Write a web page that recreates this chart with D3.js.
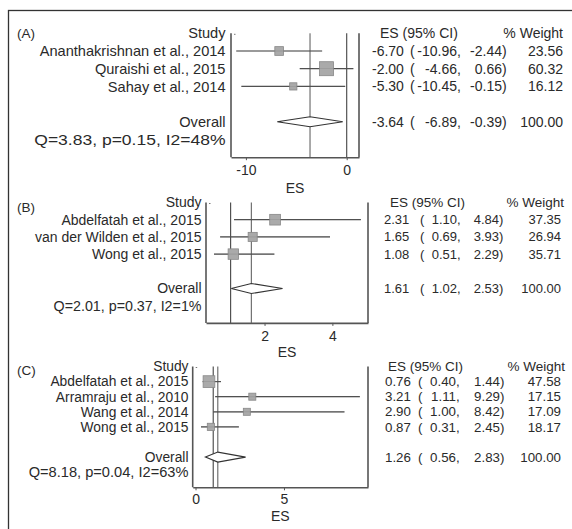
<!DOCTYPE html>
<html>
<head>
<meta charset="utf-8">
<script src="https://cdn.jsdelivr.net/npm/d3@7"></script>
<style>
  html, body { margin: 0; padding: 0; background: #fff; }
  svg { display: block; }
  text { font-family: "Liberation Sans", Arial, sans-serif; fill: #2a2a2a; }
</style>
</head>
<body>
<svg id="chart" width="572" height="529"></svg>
<script>
// ---------------- DATA ----------------
const panelLabels = ["(A)", "(B)", "(C)"];

const studiesA = ["Ananthakrishnan et al., 2014", "Quraishi et al., 2015", "Sahay et al., 2014"];
const esA      = [-6.70, -2.00, -5.30];
const loA      = [-10.96, -4.66, -10.45];
const hiA      = [-2.44, 0.66, -0.15];
const weightA  = [23.56, 60.32, 16.12];
const overallA = [-3.64, -6.89, -0.39];
const hetA     = "Q=3.83, p=0.15, I2=48%";
const ticksA   = [-10, 0];
const nullA    = 0;

const studiesB = ["Abdelfatah et al., 2015", "van der Wilden et al., 2015", "Wong et al., 2015"];
const esB      = [2.31, 1.65, 1.08];
const loB      = [1.10, 0.69, 0.51];
const hiB      = [4.84, 3.93, 2.29];
const weightB  = [37.35, 26.94, 35.71];
const overallB = [1.61, 1.02, 2.53];
const hetB     = "Q=2.01, p=0.37, I2=1%";
const ticksB   = [2, 4];
const nullB    = 1;

const studiesC = ["Abdelfatah et al., 2015", "Arramraju et al., 2010", "Wang et al., 2014", "Wong et al., 2015"];
const esC      = [0.76, 3.21, 2.90, 0.87];
const loC      = [0.40, 1.11, 1.00, 0.31];
const hiC      = [1.44, 9.29, 8.42, 2.45];
const weightC  = [47.58, 17.15, 17.09, 18.17];
const overallC = [1.26, 0.56, 2.83];
const hetC     = "Q=8.18, p=0.04, I2=63%";
const ticksC   = [0, 5];
const nullC    = 1;

const headerStudy  = "Study";
const headerES     = "ES (95% CI)";
const headerWeight = "% Weight";
const overallLabel = "Overall";
const overallWeight = 100.00;
const axisTitle    = "ES";

// ---------------- LAYOUT ----------------
const loc = d3.formatLocale({decimal: ".", thousands: ",", grouping: [3], currency: ["", ""], minus: "-"});
const f2 = loc.format(".2f");
const f0 = loc.format("d");

const svg = d3.select("#chart");

// outer frame (only top & left visible)
svg.append("rect").attr("x", 8.5).attr("y", 10.5).attr("width", 600).attr("height", 600)
  .attr("fill", "none").attr("stroke", "#333").attr("stroke-width", 1.3);

const panels = [
  { label: panelLabels[0], studies: studiesA, es: esA, lo: loA, hi: hiA, w: weightA, ov: overallA, het: hetA, ticks: ticksA, nul: nullA,
    domain: [-11.48, 1.22], px: [231, 359], headY: 33.3, step: 17.7, labelX: 225.5, fs: 14.6, hetSx: 1.2, fsNum: 14, fsHead: 14, boxK: 1.8,
    col: { es: 372, paren: 410, lo: 457, hi: 502, w: 563, head: 380, headW: 563 }, tickDy: 13, titleDy: 31, tagY: 33 },
  { label: panelLabels[1], studies: studiesB, es: esB, lo: loB, hi: hiB, w: weightB, ov: overallB, het: hetB, ticks: ticksB, nul: nullB,
    domain: [0.274, 5.05], px: [206, 368], headY: 202.5, step: 17.2, labelX: 201.5, fs: 14, hetSx: 1.02, fsNum: 13, fsHead: 13.5, boxK: 1.75,
    col: { es: 384, paren: 420, lo: 457, hi: 499, w: 561, head: 390, headW: 564 }, tickDy: 13.4, titleDy: 29, tagY: 207 },
  { label: panelLabels[2], studies: studiesC, es: esC, lo: loC, hi: hiC, w: weightC, ov: overallC, het: hetC, ticks: ticksC, nul: nullC,
    domain: [-0.16, 9.75], px: [192.7, 368], headY: 366.5, step: 15.1, labelX: 188.5, fs: 13.8, hetSx: 1.06, fsNum: 13.3, fsHead: 13.5, boxK: 1.7,
    col: { es: 385, paren: 418, lo: 456, hi: 500, w: 561, head: 388, headW: 565 }, tickDy: 12, titleDy: 29, tagY: 370 }
];

const lineCol = "#444";

panels.forEach(p => {
  const g = svg.append("g");
  const n = p.studies.length;
  const x = d3.scaleLinear().domain(p.domain).range(p.px);
  const y = d3.scaleLinear().domain([0, 1]).range([p.headY, p.headY + p.step]);
  const yOverall = y(n + 2);
  const yHet = y(n + 3);
  const yBottom = y(n + 4);
  const yTop = p.headY;

  // panel tag
  g.append("text").attr("x", 17).attr("y", p.tagY).attr("dy", "0.35em")
    .style("font-size", "13.5px").text(p.label);

  // left labels
  g.append("text").attr("x", p.labelX).attr("y", y(0)).attr("dy", "0.35em")
    .attr("text-anchor", "end").style("font-size", p.fs + "px").text(headerStudy);
  g.selectAll(".lab").data(p.studies).join("text")
    .attr("x", p.labelX).attr("y", (d, i) => y(i + 1)).attr("dy", "0.35em")
    .attr("text-anchor", "end").style("font-size", p.fs + "px").text(d => d);
  g.append("text").attr("x", p.labelX).attr("y", yOverall).attr("dy", "0.35em")
    .attr("text-anchor", "end").style("font-size", p.fs + "px").text(overallLabel);
  g.append("g").attr("transform", `translate(${p.labelX},${yHet}) scale(${p.hetSx},1)`)
    .append("text").attr("x", 0).attr("y", 0).attr("dy", "0.35em")
    .attr("text-anchor", "end").style("font-size", p.fs + "px").text(p.het);

  // frame lines: left axis, right line
  g.append("line").attr("x1", p.px[0]).attr("x2", p.px[0]).attr("y1", yTop).attr("y2", yBottom)
    .attr("stroke", "#555").attr("stroke-width", 1.6);
  g.append("line").attr("x1", p.px[1]).attr("x2", p.px[1]).attr("y1", yTop).attr("y2", yBottom)
    .attr("stroke", "#555").attr("stroke-width", 1.6);
  // small tick at header row
  g.append("line").attr("x1", p.px[0] + 3).attr("x2", p.px[0] + 4.5).attr("y1", yTop + 1).attr("y2", yTop + 1)
    .attr("stroke", "#777").attr("stroke-width", 1);

  // null line and overall line
  g.append("line").attr("x1", x(p.nul)).attr("x2", x(p.nul)).attr("y1", yTop).attr("y2", yBottom)
    .attr("stroke", "#444").attr("stroke-width", 1.1);
  g.append("line").attr("x1", x(p.ov[0])).attr("x2", x(p.ov[0])).attr("y1", yTop).attr("y2", yBottom)
    .attr("stroke", "#555").attr("stroke-width", 1);

  // bottom axis
  const axis = d3.axisBottom(x).tickValues(p.ticks).tickSize(3).tickSizeOuter(0).tickFormat(f0);
  const ax = g.append("g").attr("transform", `translate(0,${yBottom})`).call(axis);
  ax.select(".domain").attr("stroke", "#555").attr("stroke-width", 1.6);
  ax.selectAll(".tick line").attr("stroke", "#555");
  ax.selectAll(".tick text").attr("y", p.tickDy).attr("dy", "0.35em")
    .style("font-size", "14px").style("font-family", '"Liberation Sans", Arial, sans-serif').attr("fill", "#2a2a2a");
  g.append("text").attr("x", (p.px[0] + p.px[1]) / 2).attr("y", yBottom + p.titleDy).attr("dy", "0.35em")
    .attr("text-anchor", "middle").style("font-size", "14px").text(axisTitle);

  // CI lines
  g.selectAll(".ci").data(p.studies).join("line")
    .attr("x1", (d, i) => x(p.lo[i])).attr("x2", (d, i) => x(p.hi[i]))
    .attr("y1", (d, i) => y(i + 1)).attr("y2", (d, i) => y(i + 1))
    .attr("stroke", lineCol).attr("stroke-width", 1.2);
  // boxes
  g.selectAll(".box").data(p.studies).join("rect")
    .attr("x", (d, i) => x(p.es[i]) - p.boxK * Math.sqrt(p.w[i]) / 2)
    .attr("y", (d, i) => y(i + 1) - p.boxK * Math.sqrt(p.w[i]) / 2)
    .attr("width", (d, i) => p.boxK * Math.sqrt(p.w[i]))
    .attr("height", (d, i) => p.boxK * Math.sqrt(p.w[i]))
    .attr("fill", "#aaa").attr("stroke", "#888").attr("stroke-width", 0.8);
  // CI line visible through the box
  g.selectAll(".ci2").data(p.studies).join("line")
    .attr("x1", (d, i) => x(p.lo[i])).attr("x2", (d, i) => x(p.hi[i]))
    .attr("y1", (d, i) => y(i + 1)).attr("y2", (d, i) => y(i + 1))
    .attr("stroke", "#777").attr("stroke-width", 0.6).attr("opacity", 0.5);

  // diamond
  const dh = 5;
  g.append("path")
    .attr("d", `M${x(p.ov[1])},${yOverall} L${x(p.ov[0])},${yOverall - dh} L${x(p.ov[2])},${yOverall} L${x(p.ov[0])},${yOverall + dh} Z`)
    .attr("fill", "#fff").attr("stroke", "#333").attr("stroke-width", 1.1);

  // right columns
  const c = p.col;
  const fsN = p.fsNum + "px";
  g.append("text").attr("x", c.head).attr("y", y(0)).attr("dy", "0.35em").style("font-size", p.fsHead + "px").text(headerES);
  g.append("text").attr("x", c.headW).attr("y", y(0)).attr("dy", "0.35em").attr("text-anchor", "end").style("font-size", p.fsHead + "px").text(headerWeight);

  const rows = p.studies.map((d, i) => ({ es: p.es[i], lo: p.lo[i], hi: p.hi[i], w: p.w[i], y: y(i + 1) }));
  rows.push({ es: p.ov[0], lo: p.ov[1], hi: p.ov[2], w: overallWeight, y: yOverall });
  rows.forEach(r => {
    g.append("text").attr("x", c.es).attr("y", r.y).attr("dy", "0.35em").style("font-size", fsN).text(f2(r.es));
    g.append("text").attr("x", c.paren).attr("y", r.y).attr("dy", "0.35em").style("font-size", fsN).text("(");
    g.append("text").attr("x", c.lo).attr("y", r.y).attr("dy", "0.35em").attr("text-anchor", "end").style("font-size", fsN).text(f2(r.lo));
    g.append("text").attr("x", c.lo).attr("y", r.y).attr("dy", "0.35em").style("font-size", fsN).text(",");
    g.append("text").attr("x", c.hi).attr("y", r.y).attr("dy", "0.35em").attr("text-anchor", "end").style("font-size", fsN).text(f2(r.hi));
    g.append("text").attr("x", c.hi).attr("y", r.y).attr("dy", "0.35em").style("font-size", fsN).text(")");
    g.append("text").attr("x", c.w).attr("y", r.y).attr("dy", "0.35em").attr("text-anchor", "end").style("font-size", fsN).text(f2(r.w));
  });
});
</script>
</body>
</html>
